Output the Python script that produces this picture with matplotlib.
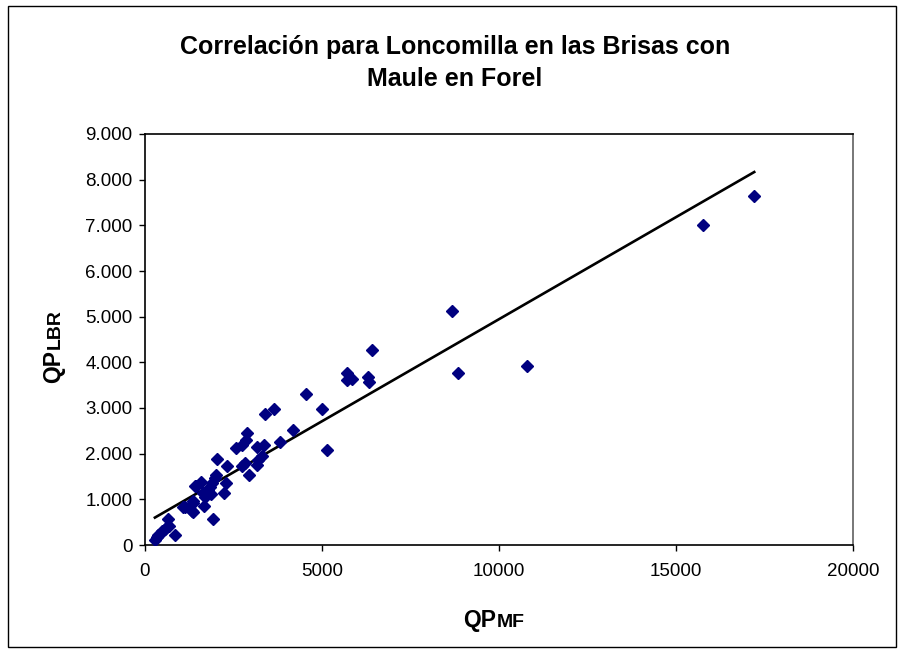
import numpy as np
import matplotlib
matplotlib.use("Agg")
import matplotlib.pyplot as plt
from matplotlib.patches import Rectangle

plt.rcParams['font.family'] = ['Liberation Sans', 'DejaVu Sans']

# caudales QP: Maule en Forel (x) vs Loncomilla en las Brisas (y)
qp_mf = [280, 330, 380, 440, 480, 560, 610, 660, 690, 850,
         1080, 1130, 1320, 1350, 1370, 1370, 1410, 1440, 1570, 1630,
         1670, 1700, 1790, 1840, 1860, 1880, 1910, 1980, 2010, 2040,
         2230, 2290, 2330, 2570, 2730, 2750, 2830, 2850, 2890, 2940,
         3170, 3200, 3170, 3300, 3360, 3380, 3640, 3800, 4170, 4540,
         4990, 5150, 5720, 5720, 5860, 6290, 6340, 6420, 8660, 8830,
         10800, 15750, 17210]
qp_lbr = [120, 170, 220, 260, 300, 340, 400, 560, 420, 220,
          840, 840, 750, 730, 920, 970, 1290, 1290, 1390, 1130,
          860, 1060, 1200, 1280, 1120, 1350, 560, 1460, 1530, 1890,
          1140, 1360, 1740, 2120, 1740, 2180, 1790, 2300, 2460, 1530,
          1750, 1860, 2150, 1950, 2180, 2870, 2970, 2250, 2520, 3310,
          2970, 2080, 3770, 3610, 3640, 3670, 3580, 4280, 5120, 3770,
          3920, 7000, 7640]

x_ticks = [0, 5000, 10000, 15000, 20000]
y_ticks = [0, 1000, 2000, 3000, 4000, 5000, 6000, 7000, 8000, 9000]

x = np.array(qp_mf, dtype=float)
y = np.array(qp_lbr, dtype=float)
m, b = np.polyfit(x, y, 1)  # linea de tendencia lineal

fig = plt.figure(figsize=(9.06, 6.56), dpi=100)
fig.patches.append(Rectangle((8/906, 1-647/656), 888/906, 641/656, transform=fig.transFigure,
                             fill=False, edgecolor='black', linewidth=1.0))

ax = fig.add_axes([145/906, 1-545/656, 708/906, 411/656])
ax.plot(x, y, linestyle='none', marker='D', markersize=6, color='#000080', zorder=3)
xl = np.array([x.min(), x.max()])
ax.plot(xl, m*xl + b, color='black', linewidth=1.9, zorder=2)

ax.set_xlim(0, 20000)
ax.set_ylim(0, 9000)
ax.set_xticks(x_ticks)
ax.set_xticklabels([str(v) for v in x_ticks])
ax.set_yticks(y_ticks)
ax.set_yticklabels([f"{v:,}".replace(',', '.') for v in y_ticks])
ax.tick_params(direction='out', length=4, width=1, labelsize=13.5, colors='black')
ax.tick_params(axis='x', pad=9)
ax.tick_params(axis='y', pad=5)
for s in ['left', 'bottom', 'top']:
    ax.spines[s].set_color('black')
    ax.spines[s].set_linewidth(1.2)
ax.spines['right'].set_color('#606060')
ax.spines['right'].set_linewidth(1.2)

fig.text(455/906, 1-47/656, "Correlación para Loncomilla en las Brisas con",
         ha='center', va='center', fontsize=18, fontweight='bold')
fig.text(455/906, 1-79/656, "Maule en Forel",
         ha='center', va='center', fontsize=18, fontweight='bold')

# etiquetas de ejes: "QP" grande + sufijo pequeño sobre la misma linea base
fig.text(496/906, 1-627/656, "QP", ha='right', va='baseline', fontsize=16.5, fontweight='bold')
fig.text(497/906, 1-627/656, "MF", ha='left', va='baseline', fontsize=14, fontweight='bold')
fig.text(60/906, 1-350/656, "QP", ha='right', va='baseline', rotation=90,
         rotation_mode='anchor', fontsize=16.5, fontweight='bold')
fig.text(60/906, 1-349/656, "LBR", ha='left', va='baseline', rotation=90,
         rotation_mode='anchor', fontsize=14, fontweight='bold')

fig.savefig("out.png", dpi=100)
